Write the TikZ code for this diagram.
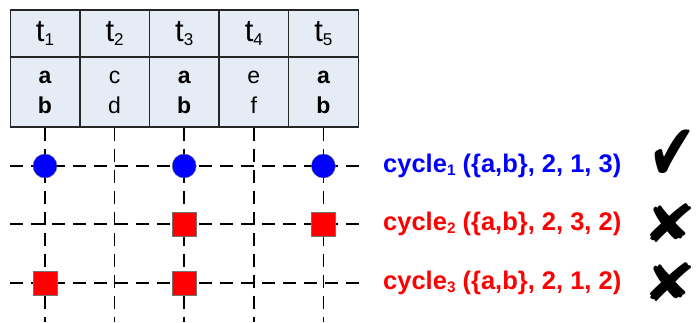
\documentclass[tikz,border=0pt]{standalone}
\usepackage{fontspec}
\setmainfont{Liberation Sans}
\newfontfamily\symfont{DejaVu Sans}
\usetikzlibrary{positioning}

\definecolor{cellfill}{RGB}{230,236,246}
\definecolor{hitblue}{RGB}{0,0,255}
\definecolor{missred}{RGB}{255,0,0}
\newcommand{\lowsub}[2][0.55]{\raisebox{-0.25ex}{\scalebox{#1}{#2}}}

\begin{document}
\begin{tikzpicture}[x=1pt,y=-1pt,
        cell/.style={draw=black!85, line width=1.4pt, fill=cellfill,
            minimum width=69.6pt, inner sep=0pt, align=center},
        boldcell/.style={font=\fontsize{23}{30}\selectfont\bfseries},
        plaincell/.style={font=\fontsize{23}{30}\selectfont},
        grid/.style={line width=1.6pt, dash pattern=on 13pt off 8pt},
        hit/.style={circle, draw=black!55, fill=hitblue, minimum size=24pt, inner sep=0pt},
        miss/.style={rectangle, draw=black!55, fill=missred, minimum size=24pt, inner sep=0pt},
        lab/.style={anchor=west, inner sep=0pt, font=\fontsize{25.5}{25.5}\selectfont\bfseries},
        verdict/.style={inner sep=0pt, font=\symfont\fontsize{50}{50}\selectfont}
    ]
        \useasboundingbox (0,0) rectangle (699,322);
        % table of transactions
        \foreach \i/\u/\w/\wt in {1/a/b/bold, 2/c/d/plain, 3/a/b/bold, 4/e/f/plain, 5/a/b/bold} {
            \node[cell, minimum height=47pt, font=\fontsize{31}{31}\selectfont]
                (t\i) at ({45+69.6*(\i-1)},33.5) {t\lowsub{\i}};
            \node[cell, minimum height=70pt, \wt cell]
                (v\i) at ({45+69.6*(\i-1)},92) {\u\\\w};
            \coordinate (b\i) at ({45+69.6*(\i-1)},322);
        }
        % rows of the grid
        \foreach \j/\y in {1/166, 2/224, 3/283} {
            \coordinate (l\j) at (10,\y);
            \coordinate (r\j) at (360,\y);
        }
        \foreach \i in {1,...,5}
            \draw[grid] (v\i.south) -- (b\i);
        \foreach \j in {1,2,3}
            \draw[grid] (l\j) -- (r\j);
        % occurrences
        \foreach \c in {1,3,5}
            \node[hit] (h1\c) at (v\c |- l1) {};
        \foreach \r/\c in {2/3, 2/5, 3/1, 3/3}
            \node[miss] (h\r\c) at (v\c |- l\r) {};
        % cycles
        \node[lab, text=hitblue, right=23pt of r1] (c1) {cycle\lowsub[0.6]{1} (\{a,b\}, 2, 1, 3)};
        \node[lab, text=missred, right=23pt of r2] (c2) {cycle\lowsub[0.6]{2} (\{a,b\}, 2, 3, 2)};
        \node[lab, text=missred, right=23pt of r3] (c3) {cycle\lowsub[0.6]{3} (\{a,b\}, 2, 1, 2)};
        \node[verdict] (ok1) at (673,155) {\scalebox{1.15}[1.6]{✔}};
        \node[verdict] (no2) at (670,223) {\scalebox{1.3}[1.05]{✘}};
        \node[verdict] (no3) at (670,282) {\scalebox{1.3}[1.05]{✘}};
    \end{tikzpicture}
\end{document}
